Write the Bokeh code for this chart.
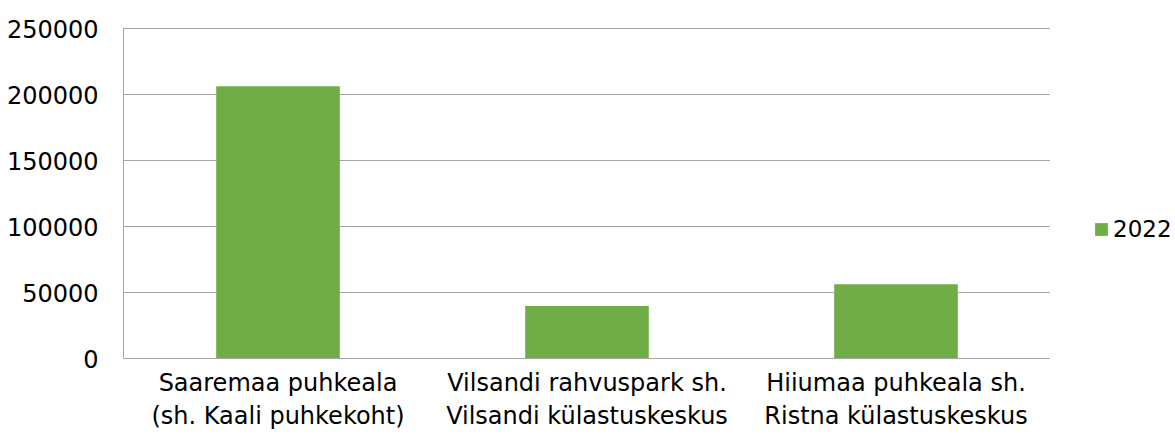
from bokeh.plotting import figure
from bokeh.layouts import row
from bokeh.models import FactorRange, Range1d, Legend, LegendItem, NumeralTickFormatter, SingleIntervalTicker, ColumnDataSource
from bokeh.embed import file_html
from bokeh.resources import INLINE

categories = ["Saaremaa puhkeala\n(sh. Kaali puhkekoht)",
              "Vilsandi rahvuspark sh.\nVilsandi külastuskeskus",
              "Hiiumaa puhkeala sh.\nRistna külastuskeskus"]
values_2022 = [206200, 39700, 56300]
series_name = "2022"

FONT = "DejaVu Sans"
GREEN = "#70AD47"
GRID = "#A6A6A6"

src = ColumnDataSource(dict(x=categories, y=values_2022))

p = figure(width=1050, height=436, x_range=FactorRange(*categories, range_padding=0),
           y_range=Range1d(0, 250800), output_backend="svg", toolbar_location=None,
           min_border_left=123, min_border_right=0, min_border_top=27, min_border_bottom=78)
p.outline_line_color = None
r = p.vbar(x="x", top="y", width=0.4, source=src, fill_color=GREEN, line_color=None)

p.yaxis.ticker = SingleIntervalTicker(interval=50000)
p.yaxis.formatter = NumeralTickFormatter(format="0")
p.yaxis.major_tick_line_color = None
p.yaxis.minor_tick_line_color = None
p.yaxis.major_tick_out = 0
p.yaxis.minor_tick_out = 0
p.yaxis.axis_line_color = GRID
p.yaxis.major_label_text_font = FONT
p.yaxis.major_label_text_font_size = "24px"
p.yaxis.major_label_text_color = "#000000"
p.yaxis.major_label_standoff = 25

p.xaxis.major_tick_line_color = None
p.xaxis.minor_tick_line_color = None
p.xaxis.major_tick_out = 0
p.xaxis.minor_tick_out = 0
p.xaxis.axis_line_color = GRID
p.xaxis.major_label_text_font = FONT
p.xaxis.major_label_text_font_size = "24px"
p.xaxis.major_label_text_color = "#000000"
p.xaxis.major_label_standoff = 10

p.xgrid.grid_line_color = None
p.ygrid.grid_line_color = GRID
p.ygrid.grid_line_width = 1

# legend panel (its swatch renderer has zero height and sits outside the visible range)
lg = figure(width=125, height=436, x_range=Range1d(0, 1), y_range=Range1d(0, 1),
            output_backend="svg", toolbar_location=None, x_axis_type=None, y_axis_type=None,
            min_border=0)
lg.outline_line_color = None
lg.grid.grid_line_color = None
lr = lg.vbar(x=[-5], bottom=[-5], top=[-5], width=0.4, fill_color=GREEN, line_color=None)
legend = Legend(items=[LegendItem(label=series_name, renderers=[lr])],
                location=(43, 116), border_line_color=None, background_fill_alpha=0,
                label_text_font=FONT, label_text_font_size="23px", label_text_color="#000000",
                glyph_width=16, glyph_height=16,
                label_standoff=4, padding=0, margin=0)
lg.add_layout(legend, "center")

open("out.html", "w").write(file_html(row(p, lg), INLINE))
